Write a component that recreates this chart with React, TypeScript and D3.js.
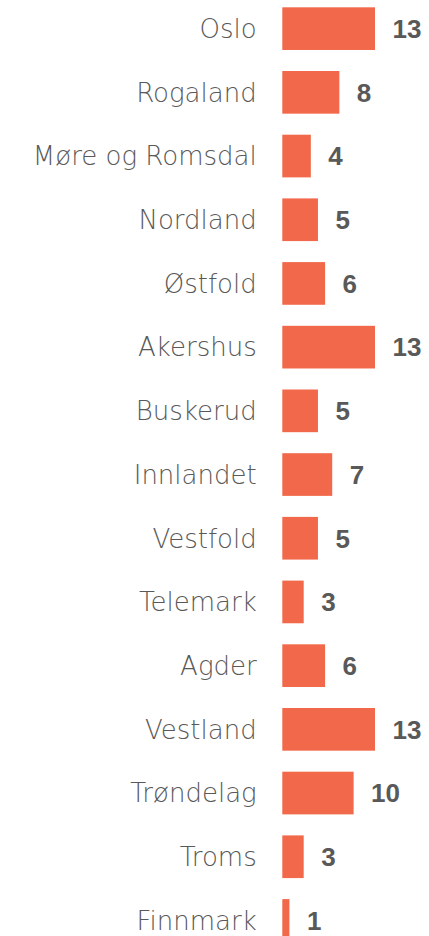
import React from "react";
import * as d3 from "d3";

const categories = [
  "Oslo", "Rogaland", "Møre og Romsdal", "Nordland", "Østfold", "Akershus",
  "Buskerud", "Innlandet", "Vestfold", "Telemark", "Agder", "Vestland",
  "Trøndelag", "Troms", "Finnmark",
];
const values = [13, 8, 4, 5, 6, 13, 5, 7, 5, 3, 6, 13, 10, 3, 1];

const W = 429;
const H = 936;

export default function App() {
  const step = 63.7;
  const y0 = 7.3 - 0.165 * step;
  const y = d3
    .scaleBand<string>()
    .domain(categories)
    .range([y0, y0 + categories.length * step])
    .paddingInner(0.33)
    .paddingOuter(0.165);
  const x = d3.scaleLinear().domain([0, 13]).range([282.3, 375]);

  return (
    <svg
      width={W}
      height={H}
      style={{ position: "absolute", left: 0, top: 0, background: "#fff" }}
    >
      {categories.map((c, i) => {
        const yy = y(c)!;
        const bw = y.bandwidth();
        const cy = yy + bw / 2;
        return (
          <g key={c}>
            <text
              x={256.7}
              y={cy}
              dy="0.36em"
              textAnchor="end"
              fontFamily="DejaVu Sans"
              fontWeight={200}
              fontSize={26}
              fill="#595959"
            >
              {c}
            </text>
            <rect
              x={x(0)}
              y={yy}
              width={x(values[i]) - x(0)}
              height={bw}
              fill="#F2684A"
            />
            <text
              x={x(values[i]) + 17.5}
              y={cy}
              dy="0.36em"
              fontFamily="Liberation Sans"
              fontWeight={700}
              fontSize={26}
              fill="#595959"
            >
              {values[i]}
            </text>
          </g>
        );
      })}
    </svg>
  );
}
